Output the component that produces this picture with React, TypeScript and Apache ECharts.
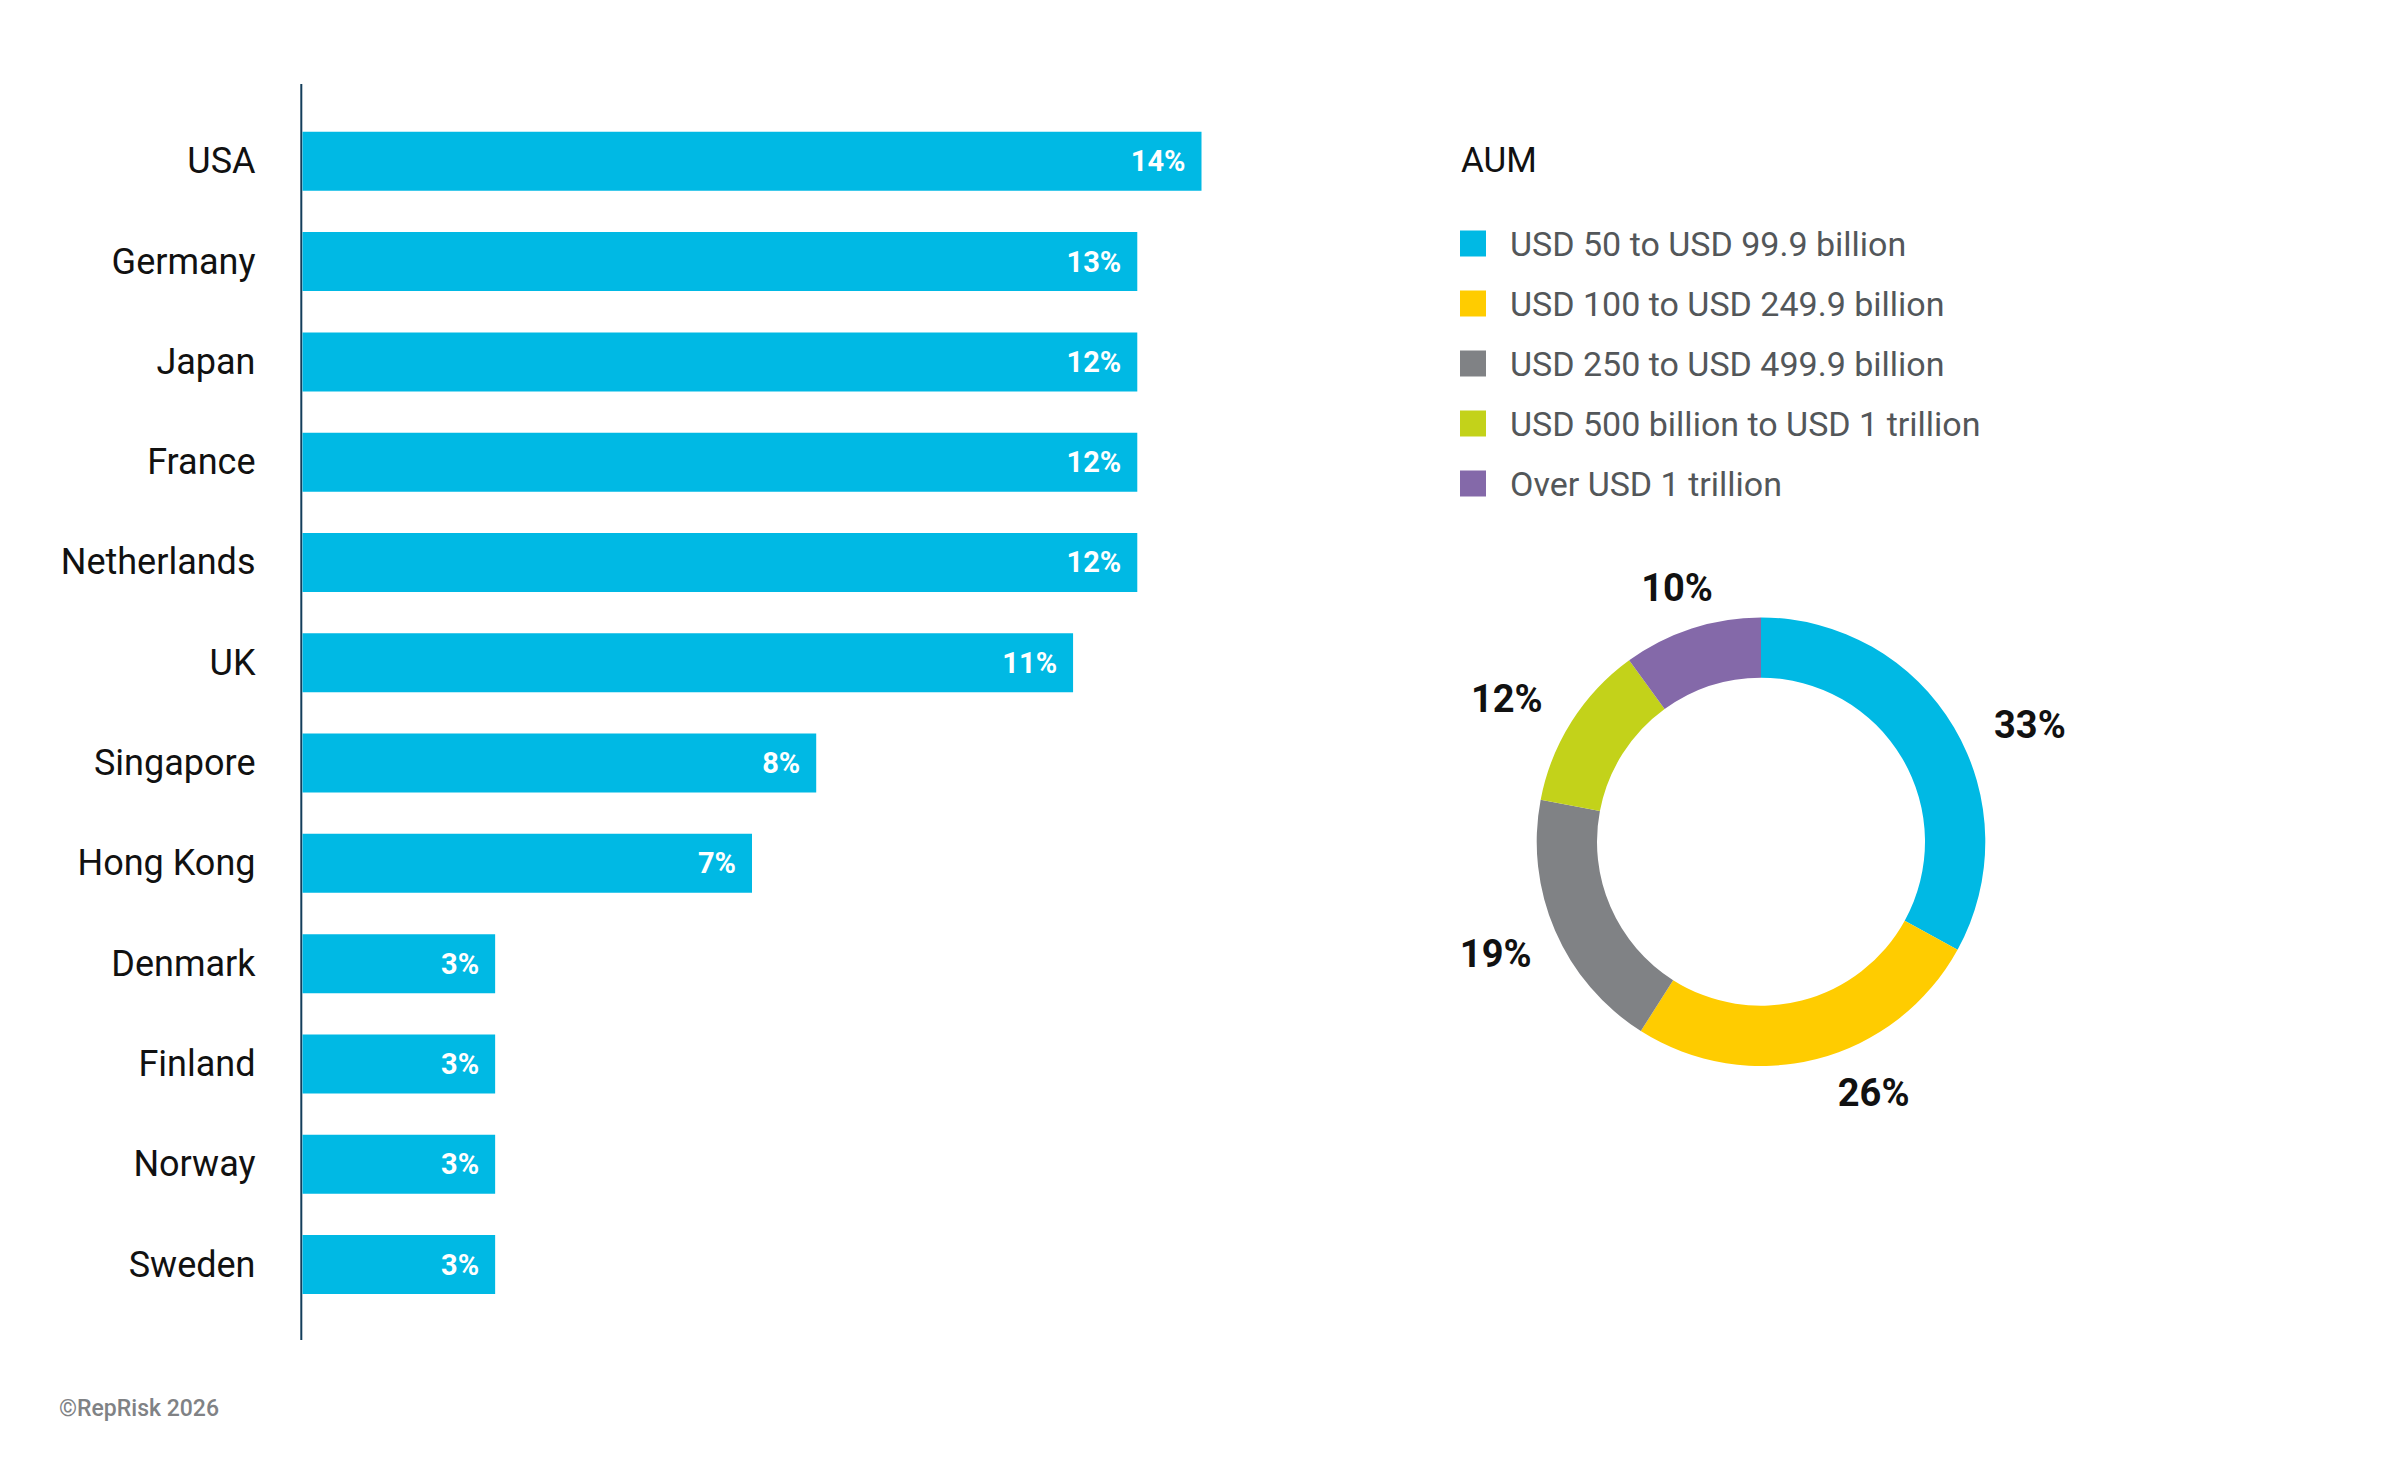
import React, { useEffect, useRef } from "react";
import * as echarts from "echarts";

// ---- data ----
const countries = [
  "USA", "Germany", "Japan", "France", "Netherlands", "UK",
  "Singapore", "Hong Kong", "Denmark", "Finland", "Norway", "Sweden",
];
const barValues = [14, 13, 13, 13, 13, 12, 8, 7, 3, 3, 3, 3];
const barLabels = ["14%", "13%", "12%", "12%", "12%", "11%", "8%", "7%", "3%", "3%", "3%", "3%"];

const aumNames = [
  "USD 50 to USD 99.9 billion",
  "USD 100 to USD 249.9 billion",
  "USD 250 to USD 499.9 billion",
  "USD 500 billion to USD 1 trillion",
  "Over USD 1 trillion",
];
const aumValues = [33, 26, 19, 12, 10];

// ---- styles ----
const aumColors = ["#00B9E4", "#FFCC00", "#808285", "#C3D21A", "#8469A9"];
const barColor = "#00B9E4";
const FONT = "Roboto, 'Noto Sans', sans-serif";
const pieLabelNudge = [
  [21, 30],
  [41, -28],
  [-1, -2],
  [-11, 12],
  [5, 20],
];

export default function App() {
  const ref = useRef<HTMLDivElement>(null);

  useEffect(() => {
    document.body.style.margin = "0";
    if (!ref.current) return;
    const chart = echarts.init(ref.current, undefined, { renderer: "svg" });

    const center = [1761, 841.7];

    chart.setOption({
      animation: false,
      backgroundColor: "#ffffff",
      textStyle: { fontFamily: FONT },
      title: [
        {
          text: "AUM",
          left: 1461,
          top: 143,
          padding: 0,
          textStyle: { fontSize: 35, lineHeight: 35, fontWeight: "normal", color: "#111111", fontFamily: FONT },
        },
        {
          text: "©RepRisk 2026",
          left: 59,
          top: 1397,
          padding: 0,
          textStyle: { fontSize: 23, lineHeight: 23, fontWeight: 500, color: "#808285", fontFamily: FONT },
        },
      ],
      legend: {
        orient: "vertical",
        left: 1455,
        top: 221.5,
        padding: 5,
        itemWidth: 26,
        itemHeight: 26,
        itemGap: 26,
        icon: "rect",
        selectedMode: false,
        data: aumNames,
        textStyle: {
          fontSize: 34,
          lineHeight: 34,
          color: "#53575A",
          fontFamily: FONT,
          padding: [0, 0, 0, 19],
        },
      },
      grid: {
        left: 302.5,
        top: 111.15,
        width: 899,
        height: 1203.5,
        containLabel: false,
        outerBoundsMode: "none",
      },
      xAxis: {
        type: "value",
        min: 0,
        max: 14,
        show: false,
      },
      yAxis: {
        type: "category",
        data: countries,
        inverse: true,
        axisLine: { show: false },
        axisTick: { show: false },
        splitLine: { show: false },
        axisLabel: {
          margin: 47,
          fontSize: 36,
          color: "#111111",
          fontFamily: FONT,
        },
      },
      graphic: [
        {
          type: "line",
          shape: { x1: 301.3, y1: 84, x2: 301.3, y2: 1340 },
          style: { stroke: "#133E5B", lineWidth: 2 },
          silent: true,
        },
      ],
      series: [
        {
          type: "bar",
          data: barValues,
          barWidth: 59,
          itemStyle: { color: barColor },
          silent: true,
          label: {
            show: true,
            position: "insideRight",
            distance: 16,
            formatter: (p: any) => barLabels[p.dataIndex],
            color: "#ffffff",
            fontSize: 29,
            fontWeight: "bold",
            fontFamily: FONT,
          },
        },
        {
          type: "pie",
          center,
          radius: [164, 224.3],
          startAngle: 90,
          clockwise: true,
          silent: true,
          label: { show: false },
          labelLine: { show: false },
          emphasis: { disabled: true },
          data: aumNames.map((n, i) => ({
            name: n,
            value: aumValues[i],
            itemStyle: { color: aumColors[i] },
          })),
        },
        {
          type: "pie",
          center,
          radius: [265, 305],
          startAngle: 90,
          clockwise: true,
          silent: true,
          itemStyle: { color: "rgba(0,0,0,0)" },
          emphasis: { disabled: true },
          labelLine: { show: false },
          label: {
            show: true,
            position: "inside",
            formatter: (p: any) => `${p.value}%`,
            fontSize: 38,
            fontWeight: "bold",
            color: "#111111",
            fontFamily: FONT,
          },
          labelLayout: (p: any) => ({
            dx: pieLabelNudge[p.dataIndex][0],
            dy: pieLabelNudge[p.dataIndex][1],
          }),
          data: aumNames.map((n, i) => ({
            name: n,
            value: aumValues[i],
          })),
        },
      ],
    });

    return () => {
      chart.dispose();
    };
  }, []);

  return (
    <div
      ref={ref}
      style={{ position: "absolute", left: 0, top: 0, width: 2400, height: 1475 }}
    />
  );
}
